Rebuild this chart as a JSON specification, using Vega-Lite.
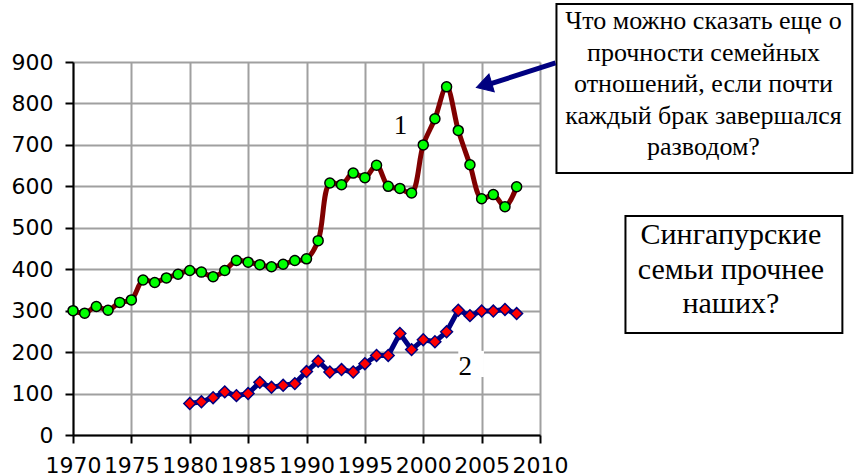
{
  "$schema": "https://vega.github.io/schema/vega-lite/v6.json",
  "width": 467,
  "height": 373,
  "autosize": {"type": "none"},
  "padding": {"left": 73, "top": 62, "right": 314, "bottom": 41},
  "background": "white",
  "config": {"view": {"stroke": null}},
  "datasets": {
    "s1": [
      {"year": 1970, "value": 300}, {"year": 1971, "value": 294}, {"year": 1972, "value": 310},
      {"year": 1973, "value": 301}, {"year": 1974, "value": 320}, {"year": 1975, "value": 326},
      {"year": 1976, "value": 374}, {"year": 1977, "value": 368}, {"year": 1978, "value": 379},
      {"year": 1979, "value": 388}, {"year": 1980, "value": 397}, {"year": 1981, "value": 393},
      {"year": 1982, "value": 382}, {"year": 1983, "value": 397}, {"year": 1984, "value": 421},
      {"year": 1985, "value": 417}, {"year": 1986, "value": 411}, {"year": 1987, "value": 406},
      {"year": 1988, "value": 412}, {"year": 1989, "value": 421}, {"year": 1990, "value": 425},
      {"year": 1991, "value": 469}, {"year": 1992, "value": 608}, {"year": 1993, "value": 604},
      {"year": 1994, "value": 632}, {"year": 1995, "value": 621}, {"year": 1996, "value": 651},
      {"year": 1997, "value": 600}, {"year": 1998, "value": 595}, {"year": 1999, "value": 584},
      {"year": 2000, "value": 700}, {"year": 2001, "value": 763}, {"year": 2002, "value": 840},
      {"year": 2003, "value": 735}, {"year": 2004, "value": 652}, {"year": 2005, "value": 570},
      {"year": 2006, "value": 580}, {"year": 2007, "value": 551}, {"year": 2008, "value": 599}
    ],
    "s2": [
      {"year": 1980, "value": 76}, {"year": 1981, "value": 80}, {"year": 1982, "value": 90},
      {"year": 1983, "value": 104}, {"year": 1984, "value": 95}, {"year": 1985, "value": 100},
      {"year": 1986, "value": 127}, {"year": 1987, "value": 115}, {"year": 1988, "value": 120},
      {"year": 1989, "value": 124}, {"year": 1990, "value": 153}, {"year": 1991, "value": 178},
      {"year": 1992, "value": 152}, {"year": 1993, "value": 158}, {"year": 1994, "value": 152},
      {"year": 1995, "value": 172}, {"year": 1996, "value": 192}, {"year": 1997, "value": 192},
      {"year": 1998, "value": 245}, {"year": 1999, "value": 206}, {"year": 2000, "value": 230},
      {"year": 2001, "value": 225}, {"year": 2002, "value": 249}, {"year": 2003, "value": 301},
      {"year": 2004, "value": 288}, {"year": 2005, "value": 299}, {"year": 2006, "value": 299},
      {"year": 2007, "value": 303}, {"year": 2008, "value": 293}
    ],
    "boxes": [
      {"x": 2011.41, "x2": 2036.75, "y": 632, "y2": 1040},
      {"x": 2017.32, "x2": 2035.9, "y": 246.1, "y2": 528.5}
    ],
    "labelbg": [
      {"x": 2003.0, "x2": 2005.2, "y": 140, "y2": 203}
    ],
    "seriesLabels": [
      {"x": 1998.06, "y": 745, "label": "1"},
      {"x": 2003.6, "y": 165, "label": "2"}
    ],
    "note1": [
      {"x": 2024.0, "y": 979, "label": "Что можно сказать еще о\nпрочности семейных\nотношений, если почти\nкаждый брак завершался\nразводом?"}
    ],
    "note2": [
      {"x": 2026.35, "y": 460, "label": "Сингапурские\nсемьи прочнее\nнаших?"}
    ],
    "arrow": [
      {"x": 2011.33, "y": 897.7, "x2": 2005.6, "y2": 846}
    ],
    "arrowhead": [
      {"x": 2005.2, "y": 844}
    ]
  },
  "layer": [
    {
      "data": {"name": "s1"},
      "mark": {"type": "line", "color": "#800000", "strokeWidth": 5, "interpolate": "catmull-rom", "clip": false},
      "encoding": {
        "x": {
          "field": "year", "type": "quantitative",
          "scale": {"domain": [1970, 2010], "nice": false, "zero": false},
          "axis": {
            "title": null, "values": [1970, 1975, 1980, 1985, 1990, 1995, 2000, 2005, 2010],
            "format": "d", "grid": true, "gridColor": "#a0a0a0", "gridWidth": 2,
            "domainColor": "black", "domainWidth": 2, "tickColor": "black", "tickWidth": 2, "tickSize": 8,
            "labelFont": "DejaVu Sans", "labelFontSize": 22, "labelColor": "black", "labelPadding": 12,
            "labelOverlap": false, "labelFlush": false
          }
        },
        "y": {
          "field": "value", "type": "quantitative",
          "scale": {"domain": [0, 900], "nice": false},
          "axis": {
            "title": null, "values": [0, 100, 200, 300, 400, 500, 600, 700, 800, 900],
            "grid": true, "gridColor": "#a0a0a0", "gridWidth": 2,
            "domainColor": "black", "domainWidth": 2, "tickColor": "black", "tickWidth": 2, "tickSize": 8,
            "labelFont": "DejaVu Sans", "labelFontSize": 22, "labelColor": "black", "labelPadding": 12,
            "labelOverlap": false, "labelFlush": false
          }
        }
      }
    },
    {
      "data": {"name": "s1"},
      "mark": {"type": "point", "shape": "circle", "filled": true, "fill": "#00ff00", "stroke": "black", "strokeWidth": 1.5, "size": 100, "opacity": 1},
      "encoding": {
        "x": {"field": "year", "type": "quantitative"},
        "y": {"field": "value", "type": "quantitative"}
      }
    },
    {
      "data": {"name": "s2"},
      "mark": {"type": "line", "color": "#000080", "strokeWidth": 5},
      "encoding": {
        "x": {"field": "year", "type": "quantitative"},
        "y": {"field": "value", "type": "quantitative"}
      }
    },
    {
      "data": {"name": "s2"},
      "mark": {"type": "point", "shape": "diamond", "filled": true, "fill": "#ff0000", "stroke": "#000080", "strokeWidth": 1.5, "size": 140, "opacity": 1},
      "encoding": {
        "x": {"field": "year", "type": "quantitative"},
        "y": {"field": "value", "type": "quantitative"}
      }
    },
    {
      "data": {"name": "labelbg"},
      "mark": {"type": "rect", "fill": "white", "clip": false},
      "encoding": {
        "x": {"field": "x", "type": "quantitative"},
        "x2": {"field": "x2"},
        "y": {"field": "y", "type": "quantitative"},
        "y2": {"field": "y2"}
      }
    },
    {
      "data": {"name": "seriesLabels"},
      "mark": {"type": "text", "font": "Liberation Serif", "fontSize": 27, "color": "black", "align": "center", "baseline": "middle", "clip": false},
      "encoding": {
        "x": {"field": "x", "type": "quantitative"},
        "y": {"field": "y", "type": "quantitative"},
        "text": {"field": "label"}
      }
    },
    {
      "data": {"name": "boxes"},
      "mark": {"type": "rect", "fill": "white", "stroke": "black", "strokeWidth": 2, "clip": false},
      "encoding": {
        "x": {"field": "x", "type": "quantitative"},
        "x2": {"field": "x2"},
        "y": {"field": "y", "type": "quantitative"},
        "y2": {"field": "y2"}
      }
    },
    {
      "data": {"name": "note1"},
      "mark": {"type": "text", "font": "Liberation Serif", "fontSize": 26, "lineHeight": 31.5, "lineBreak": "\n", "color": "black", "align": "center", "baseline": "alphabetic", "clip": false},
      "encoding": {
        "x": {"field": "x", "type": "quantitative"},
        "y": {"field": "y", "type": "quantitative"},
        "text": {"field": "label"}
      }
    },
    {
      "data": {"name": "note2"},
      "mark": {"type": "text", "font": "Liberation Serif", "fontSize": 30, "lineHeight": 34.5, "lineBreak": "\n", "color": "black", "align": "center", "baseline": "alphabetic", "clip": false},
      "encoding": {
        "x": {"field": "x", "type": "quantitative"},
        "y": {"field": "y", "type": "quantitative"},
        "text": {"field": "label"}
      }
    },
    {
      "data": {"name": "arrow"},
      "mark": {"type": "rule", "color": "#000080", "strokeWidth": 5, "clip": false},
      "encoding": {
        "x": {"field": "x", "type": "quantitative"},
        "y": {"field": "y", "type": "quantitative"},
        "x2": {"field": "x2"},
        "y2": {"field": "y2"}
      }
    },
    {
      "data": {"name": "arrowhead"},
      "mark": {"type": "point", "shape": "triangle-left", "filled": true, "fill": "#000080", "stroke": "#000080", "strokeWidth": 1, "size": 340, "angle": -16.7, "opacity": 1, "clip": false},
      "encoding": {
        "x": {"field": "x", "type": "quantitative"},
        "y": {"field": "y", "type": "quantitative"}
      }
    }
  ]
}
